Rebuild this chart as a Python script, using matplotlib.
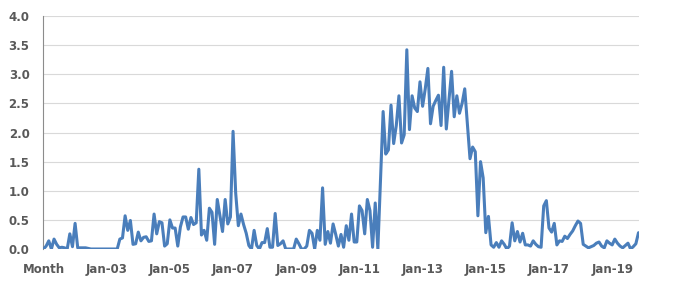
import matplotlib
matplotlib.use("Agg")
import matplotlib.pyplot as plt
import pandas as pd

# monthly values, Jan-01 .. Nov-19 (first category is the "Month" header)
values_2001 = [0.0, 0.05, 0.14, 0.0, 0.17, 0.08, 0.02, 0.03, 0.02, 0.0, 0.26, 0.04]
values_2002 = [0.44, 0.02, 0.02, 0.02, 0.02, 0.01, 0.0, 0.0, 0.0, 0.0, 0.0, 0.0]
values_2003 = [0.0, 0.0, 0.0, 0.0, 0.0, 0.17, 0.19, 0.57, 0.32, 0.49, 0.08, 0.09]
values_2004 = [0.29, 0.14, 0.2, 0.21, 0.13, 0.14, 0.6, 0.26, 0.47, 0.45, 0.05, 0.09]
values_2005 = [0.5, 0.36, 0.36, 0.05, 0.38, 0.55, 0.55, 0.34, 0.54, 0.42, 0.45, 1.37]
values_2006 = [0.24, 0.32, 0.15, 0.7, 0.63, 0.08, 0.85, 0.58, 0.30, 0.85, 0.43, 0.55]
values_2007 = [2.02, 0.96, 0.40, 0.6, 0.42, 0.27, 0.06, 0.0, 0.32, 0.06, 0.0, 0.11]
values_2008 = [0.11, 0.35, 0.03, 0.03, 0.61, 0.06, 0.09, 0.14, 0.0, 0.0, 0.0, 0.0]
values_2009 = [0.17, 0.09, 0.0, 0.0, 0.05, 0.32, 0.27, 0.0, 0.32, 0.15, 1.05, 0.08]
values_2010 = [0.3, 0.1, 0.43, 0.25, 0.05, 0.25, 0.03, 0.4, 0.15, 0.6, 0.12, 0.12]
values_2011 = [0.74, 0.66, 0.26, 0.85, 0.66, 0.03, 0.79, 0.0, 1.2, 2.36, 1.63, 1.7]
values_2012 = [2.47, 1.81, 2.12, 2.63, 1.82, 1.96, 3.42, 2.05, 2.63, 2.42, 2.36, 2.87]
values_2013 = [2.45, 2.75, 3.1, 2.15, 2.45, 2.55, 2.64, 2.12, 3.12, 2.06, 2.55, 3.05]
values_2014 = [2.27, 2.63, 2.33, 2.5, 2.75, 2.15, 1.55, 1.75, 1.67, 0.57, 1.5, 1.22]
values_2015 = [0.28, 0.56, 0.07, 0.03, 0.11, 0.03, 0.14, 0.08, 0.0, 0.05, 0.45, 0.14]
values_2016 = [0.3, 0.12, 0.27, 0.07, 0.07, 0.05, 0.14, 0.08, 0.04, 0.03, 0.74, 0.83]
values_2017 = [0.36, 0.29, 0.44, 0.07, 0.14, 0.13, 0.22, 0.18, 0.25, 0.31, 0.4, 0.48]
values_2018 = [0.44, 0.08, 0.05, 0.02, 0.04, 0.06, 0.1, 0.12, 0.05, 0.02, 0.14, 0.1]
values_2019 = [0.07, 0.17, 0.1, 0.05, 0.02, 0.06, 0.1, 0.0, 0.04, 0.09, 0.28]

values = (values_2001 + values_2002 + values_2003 + values_2004 + values_2005
          + values_2006 + values_2007 + values_2008 + values_2009 + values_2010
          + values_2011 + values_2012 + values_2013 + values_2014 + values_2015
          + values_2016 + values_2017 + values_2018 + values_2019)

months = list(pd.date_range("2001-01-01", periods=len(values), freq="MS").strftime("%b-%y"))
months[0] = "Month"

y_ticks = [0.0, 0.5, 1.0, 1.5, 2.0, 2.5, 3.0, 3.5, 4.0]

label_color = "#595959"

fig = plt.figure(figsize=(6.74, 2.88), dpi=100)
ax = fig.add_axes([43.5 / 674, 1 - 249 / 288, 595 / 674, 233 / 288])

x = list(range(len(values)))
ax.plot(x, values, color="#4A7EBB", linewidth=2.2,
        solid_joinstyle="round", solid_capstyle="round", zorder=3)

ax.set_xlim(0, len(values) - 1)
ax.set_ylim(0, 4)
ax.set_yticks(y_ticks)
ax.set_yticklabels([f"{v:.1f}" for v in y_ticks])
ax.set_xticks(x[::24])
ax.set_xticklabels(months[::24])

ax.grid(axis="y", color="#D9D9D9", linewidth=0.8, zorder=0)
ax.tick_params(axis="both", length=0, labelsize=8.5, labelcolor=label_color)
ax.tick_params(axis="y", pad=10)
ax.tick_params(axis="x", pad=10)
for lbl in ax.get_xticklabels() + ax.get_yticklabels():
    lbl.set_fontweight("bold")

for side in ["top", "right", "bottom"]:
    ax.spines[side].set_visible(False)
ax.spines["left"].set_color("#8C8C8C")
ax.spines["left"].set_linewidth(0.8)

fig.savefig("out.png", dpi=100)
